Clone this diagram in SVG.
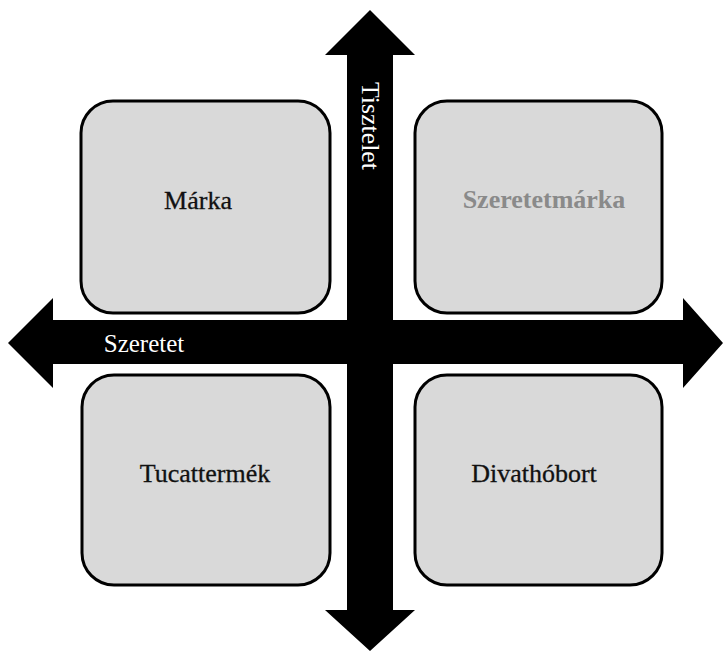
<svg xmlns="http://www.w3.org/2000/svg" width="724" height="651" viewBox="0 0 724 651">
<style>
.box{fill:#d9d9d9;stroke:#000;stroke-width:3}
.lbl{font-family:"Liberation Serif",serif;font-size:26px;text-anchor:middle;fill:#111;stroke:#111;stroke-width:0.3}
.axis{font-family:"Liberation Serif",serif;font-size:25px;text-anchor:middle;fill:#fff}
</style>
<rect width="724" height="651" fill="#fff"/>
<g id="node-marka"><rect class="box" x="81" y="101" width="249" height="212" rx="32"/><text class="lbl" x="198" y="209">Márka</text></g>
<g id="node-szeretetmarka"><rect class="box" x="415" y="101" width="247" height="212" rx="32"/><text class="lbl" x="544" y="208" style="fill:#8a8a8a;stroke:none;font-weight:bold">Szeretetmárka</text></g>
<g id="node-tucattermek"><rect class="box" x="82" y="375" width="248" height="210" rx="32"/><text class="lbl" x="205" y="482">Tucattermék</text></g>
<g id="node-divathobort"><rect class="box" x="415" y="375" width="247" height="210" rx="32"/><text class="lbl" x="534" y="482">Divathóbort</text></g>
<g id="connectors">
<polygon fill="#000" points="8,343 53,298 53,320 347,320 347,55 325,55 370,10 415,55 393,55 393,320 683,320 683,298 723,343 683,388 683,364 393,364 393,610 415,610 370,651 325,610 347,610 347,364 53,364 53,388"/>
<text class="axis" x="144" y="352">Szeretet</text>
<text class="axis" transform="translate(362,126) rotate(90)" font-size="22" textLength="88" lengthAdjust="spacingAndGlyphs">Tisztelet</text>
</g>
</svg>
